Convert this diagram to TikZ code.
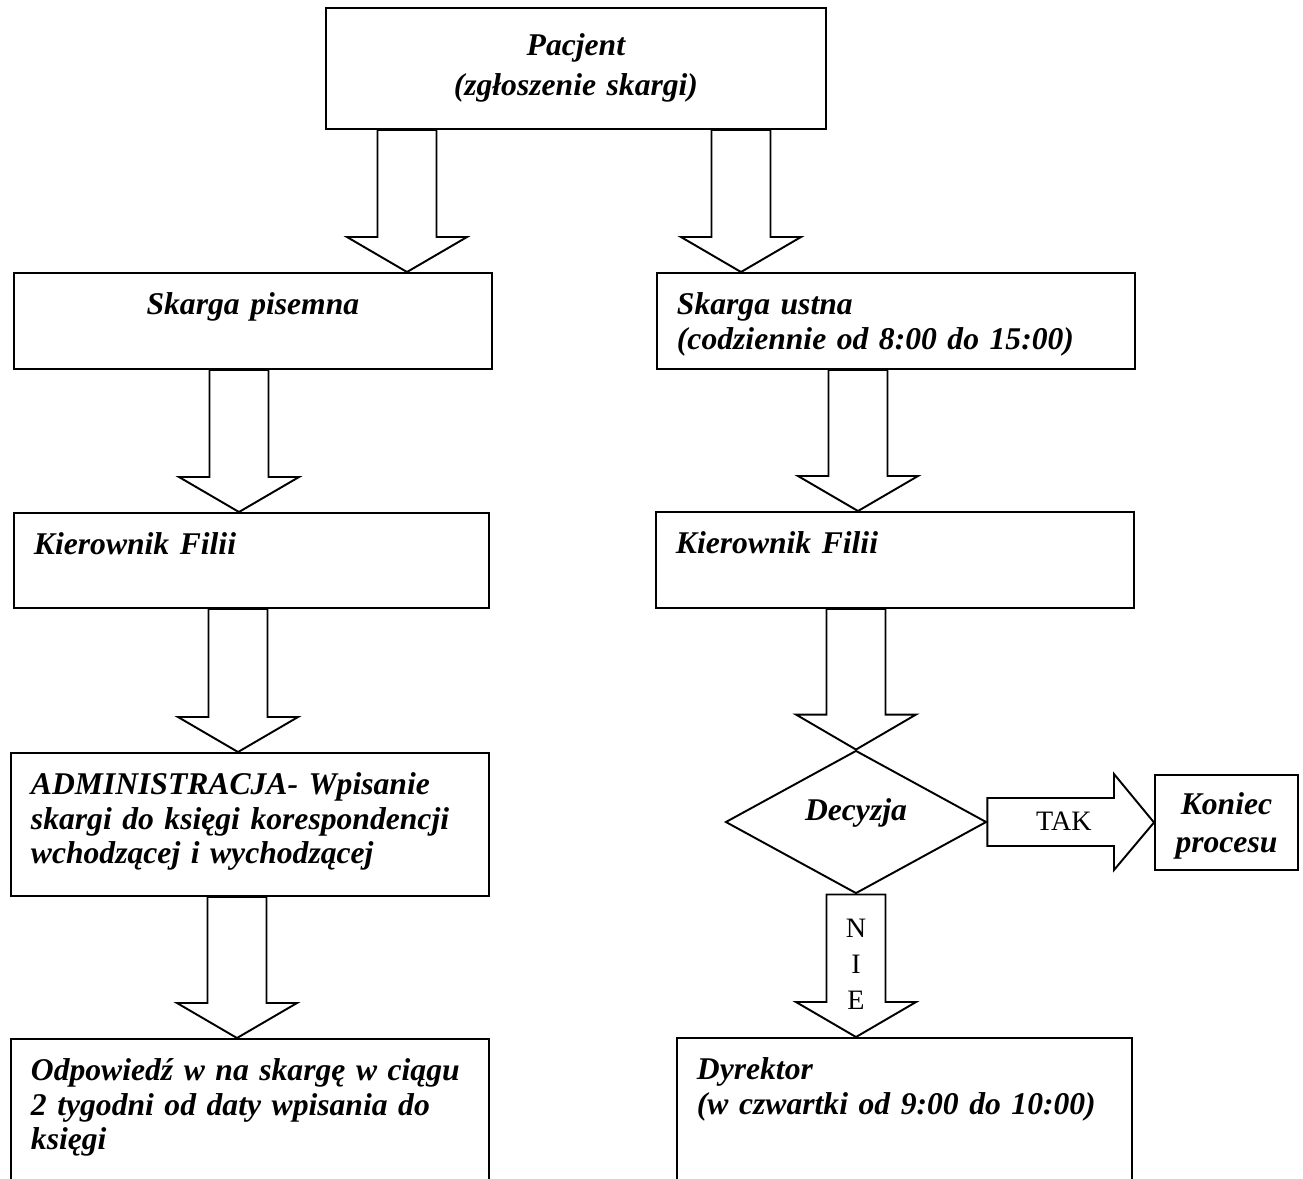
\documentclass[tikz,border=0pt]{standalone}
\usepackage{fontspec}
\setmainfont{Liberation Serif}
\usetikzlibrary{shapes.geometric,calc}
\tikzset{
    font=\fontsize{18}{19.4}\selectfont\bfseries\itshape,
    flow box/.style={draw,line width=1.1pt,anchor=north west,align=left,inner xsep=0.4cm,inner ysep=0.3cm,text height=0.54cm},
    decision/.style={diamond,draw,line width=1.1pt,aspect=1.8,inner sep=0pt,minimum width=5.22cm,minimum height=2.86cm},
    answer/.style={font=\fontsize{16}{20.5}\selectfont,inner sep=0pt,align=center},
    block down/.style={draw,line width=1.1pt,to path={let \p1=(\tikztostart), \p2=(\tikztotarget) in
        (\x1-0.59cm,\y1) -- (\x1-0.59cm,\y2+0.7cm) -- (\x1-1.2cm,\y2+0.7cm) -- (\x2,\y2)
        -- (\x1+1.2cm,\y2+0.7cm) -- (\x1+0.59cm,\y2+0.7cm) -- (\x1+0.59cm,\y1) -- cycle}},
    block right/.style={draw,line width=1.1pt,to path={let \p1=(\tikztostart), \p2=(\tikztotarget) in
        (\x1,\y1+0.48cm) -- (\x2-0.8cm,\y1+0.48cm) -- (\x2-0.8cm,\y1+0.96cm) -- (\x2,\y2)
        -- (\x2-0.8cm,\y1-0.96cm) -- (\x2-0.8cm,\y1-0.48cm) -- (\x1,\y1-0.48cm) -- cycle}}
}
\begin{document}
\begin{tikzpicture}[x=0.02cm,y=-0.02cm]
    \path[use as bounding box,clip] (0,0) rectangle (1303,1178);
    % start
    \node[flow box,align=center,text width=9.2cm,text height=0.66cm,text depth=1.16cm] (pacjent) at (325,7) {Pacjent\\[3pt](zgłoszenie skargi)};
    % left branch
    \node[flow box,align=center,text width=8.76cm,text depth=0.78cm] (pisemna) at (13,272) {Skarga pisemna};
    \node[flow box,text width=8.7cm,text depth=0.76cm] (kier1) at (13,512) {Kierownik Filii};
    \node[flow box,text width=8.76cm,text depth=1.72cm] (admin) at (10,752) {ADMINISTRACJA- Wpisanie\\ skargi do księgi korespondencji\\ wchodzącej i wychodzącej};
    \node[flow box,text width=8.76cm,text depth=2.1cm] (odp) at (10,1038) {Odpowiedź w na skargę w ciągu\\ 2 tygodni od daty wpisania do\\ księgi};
    % right branch
    \node[flow box,text width=8.76cm,text depth=0.78cm] (ustna) at (656,272) {Skarga ustna\\ (codziennie od 8:00 do 15:00)};
    \node[flow box,text width=8.76cm,text depth=0.78cm] (kier2) at (655,511) {Kierownik Filii};
    \node[decision,text height=0.45cm,text depth=0.53cm] (decyzja) at (856,822) {Decyzja};
    \node[flow box,align=center,inner xsep=0.1cm,text width=2.66cm,text height=0.5cm,text depth=0.8cm] (koniec) at (1154,774) {Koniec\\[2pt]procesu};
    \node[flow box,text width=8.3cm,text depth=2.1cm] (dyrektor) at (676,1037) {Dyrektor\\ (w czwartki od 9:00 do 10:00)};
    % arrow tips
    \coordinate (pisemna in) at (407,272);
    \coordinate (ustna in) at (741,272);
    \coordinate (kier1 in) at (239,512);
    \coordinate (kier2 in) at (858,511);
    \coordinate (admin in) at (238,752);
    \coordinate (odp in) at (237,1038);
    \path
        (pacjent.south -| pisemna in) edge [block down] (pisemna in)
        (pacjent.south -| ustna in) edge [block down] (ustna in)
        (pisemna.south -| kier1 in) edge [block down] (kier1 in)
        (ustna.south -| kier2 in) edge [block down] (kier2 in)
        (kier1.south -| admin in) edge [block down] (admin in)
        (admin.south -| odp in) edge [block down] (odp in)
        (kier2.south -| decyzja.north) edge [block down] (decyzja.north)
        (decyzja.south) edge [block down] (dyrektor.north -| decyzja.south)
        (decyzja.east) edge [block right] (koniec.west)
        ;
    \node[answer] (tak) at (1064,821) {TAK};
    \node[answer,text width=0.6cm] (nie) at (856,964) {N\\I\\E};
\end{tikzpicture}
\end{document}
